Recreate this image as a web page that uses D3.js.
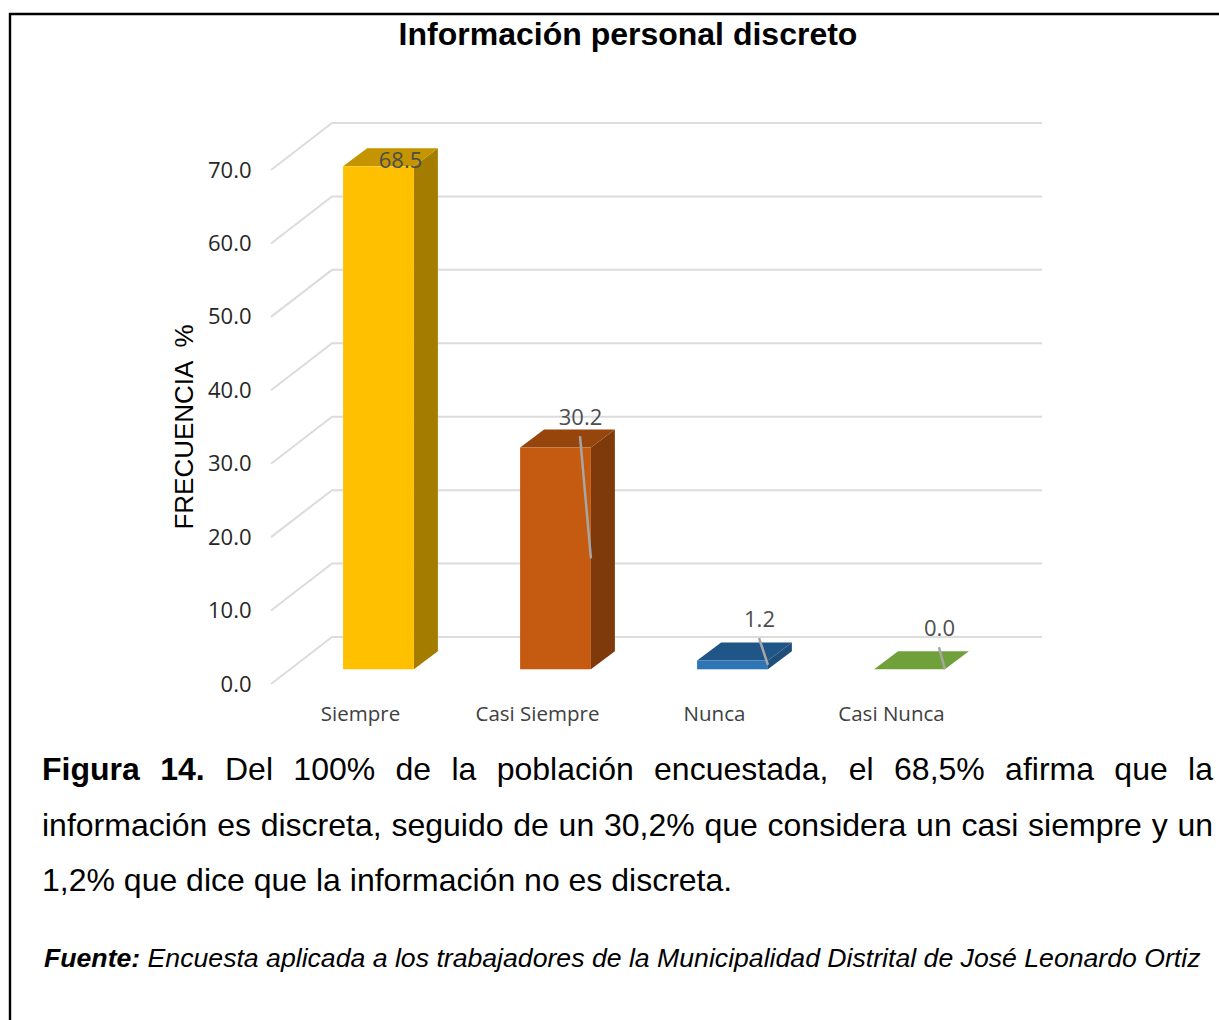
<!DOCTYPE html>
<html lang="es">
<head>
<meta charset="utf-8">
<title>Información personal discreto</title>
<script src="https://cdn.jsdelivr.net/npm/d3@7"></script>
<style>
html,body{margin:0;padding:0;background:#fff;}
svg{display:block;}
.arial{font-family:"Liberation Sans",Arial,sans-serif;fill:#000;}
.axis text{font-family:"Open Sans",sans-serif;}
.axis path,.axis line{display:none;}
</style>
</head>
<body>
<svg id="chart" width="1219" height="1020"></svg>
<script>
const chartTitle = "Información personal discreto";
const yAxisTitle = "FRECUENCIA  %";
const categories = ["Siempre", "Casi Siempre", "Nunca", "Casi Nunca"];
const values = [68.5, 30.2, 1.2, 0.0];
const yTicks = [0, 10, 20, 30, 40, 50, 60, 70];
const frontColors = ["#FFC000", "#C55A11", "#2E75B6", "#70A03A"];
const topColors = ["#C49500", "#96450D", "#1F5587", "#70A03A"];
const sideColors = ["#A37C00", "#7F3A0B", "#1F4E79", "#70A03A"];
const captionLines = [
  ["Figura 14.", " Del 100% de la población encuestada, el 68,5% afirma que la"],
  ["", "información es discreta, seguido de un 30,2% que considera un casi siempre y un"],
  ["", "1,2% que dice que la información no es discreta."]
];
const sourceBold = "Fuente:";
const sourceText = " Encuesta aplicada a los trabajadores de la Municipalidad Distrital de José Leonardo Ortiz";

const svg = d3.select("#chart");

// frame
svg.append("path").attr("d", "M10,1020V14H1219").attr("fill", "none")
  .attr("stroke", "#000").attr("stroke-width", 2.4);

// scales
const yBack = d3.scaleLinear().domain([0, 70]).range([637, 123]);
const yFront = d3.scaleLinear().domain([0, 70]).range([684, 170]);
const yBar = d3.scaleLinear().domain([0, 70]).range([669.3, 155.3]);
const x = d3.scaleBand().domain(categories).range([290, 998]).paddingInner(0.6).paddingOuter(0.3);
const wallLeft = 332, wallRight = 1042, floorLeft = 271;
const depthX = 24, depthY = 18;

// title
svg.append("text").attr("class", "arial").attr("x", 628).attr("y", 45)
  .attr("text-anchor", "middle").attr("font-weight", 700).attr("font-size", 32).text(chartTitle);

// gridlines
const grid = svg.append("g").attr("fill", "none").attr("stroke", "#DCDCDC").attr("stroke-width", 2);
grid.selectAll("path").data(yTicks).join("path")
  .attr("d", d => `M${floorLeft},${yFront(d)}L${wallLeft},${yBack(d)}H${wallRight}`);

// axes
const yAxis = d3.axisLeft(yFront).tickValues(yTicks).tickFormat(d3.format(".1f")).tickSize(0).tickPadding(0);
svg.append("g").attr("class", "axis").attr("transform", "translate(251.5,0)").call(yAxis)
  .selectAll("text").attr("font-size", 22).attr("fill", "#262626");
const xAxis = d3.axisBottom(x).tickSize(0).tickPadding(0);
svg.append("g").attr("class", "axis").attr("transform", "translate(-18,706)").call(xAxis)
  .selectAll("text").attr("font-size", 20.5).attr("fill", "#404040");

// y title
svg.append("text").attr("class", "arial")
  .attr("transform", "translate(193,427) rotate(-90)")
  .attr("text-anchor", "middle").attr("font-size", 26).attr("fill", "#1a1a1a")
  .style("white-space", "pre").text(yAxisTitle);

// bars
const bars = svg.append("g").selectAll("g").data(values).join("g");
bars.append("path").attr("fill", (d, i) => sideColors[i])
  .attr("d", (d, i) => {
    const r = x(categories[i]) + x.bandwidth();
    return `M${r},${yBar(0)}L${r + depthX},${yBar(0) - depthY}V${yBar(d) - depthY}L${r},${yBar(d)}Z`;
  });
bars.append("path").attr("fill", (d, i) => topColors[i])
  .attr("d", (d, i) => {
    const l = x(categories[i]), r = l + x.bandwidth();
    return `M${l},${yBar(d)}L${l + depthX},${yBar(d) - depthY}H${r + depthX}L${r},${yBar(d)}Z`;
  });
bars.append("rect").attr("fill", (d, i) => frontColors[i])
  .attr("x", (d, i) => x(categories[i])).attr("width", x.bandwidth())
  .attr("y", d => yBar(d)).attr("height", d => yBar(0) - yBar(d));

// data labels and leader lines
const labelDx = [22, 25, 27, 30];
const labelBaseDy = [2, -22.5, -33.5, -33];
const baseY = (d, i) => yBar(d) + labelBaseDy[i];
const labelX = (d, i) => x(categories[i]) + x.bandwidth() / 2 + labelDx[i];
const leaders = [null, 1, 2, 3];
svg.append("g").attr("stroke", "#A6A6A6").attr("stroke-width", 2.5)
  .selectAll("line").data(values.map((v, i) => ({v, i})).filter(o => leaders[o.i] !== null)).join("line")
  .attr("x1", o => labelX(o.v, o.i) - 0.5)
  .attr("y1", o => baseY(o.v, o.i) + 11)
  .attr("x2", o => x(categories[o.i]) + x.bandwidth())
  .attr("y2", o => yBar(o.v / 2));
svg.append("g").selectAll("text").data(values).join("text")
  .attr("x", labelX)
  .attr("y", baseY)
  .attr("text-anchor", "middle")
  .attr("font-family", '"Open Sans",sans-serif')
  .attr("font-size", 22)
  .attr("fill", "#4d4d4d")
  .text(d => d3.format(".1f")(d));

// caption, justified on the first two lines
const captionBase = [779.5, 835.5, 890.5];
captionLines.forEach((ln, i) => {
  const t = svg.append("text").attr("class", "arial").attr("x", 42).attr("y", captionBase[i])
    .attr("font-size", 32).style("white-space", "pre");
  if (ln[0]) t.append("tspan").attr("font-weight", 700).text(ln[0]);
  t.append("tspan").text(ln[1]);
  if (i < 2) {
    const txt = ln[0] + ln[1];
    const gaps = txt.trim().split(/\s+/).length - 1;
    const extra = (1213 - 42 - t.node().getComputedTextLength()) / gaps;
    t.attr("word-spacing", extra);
  }
});

// source
const s = svg.append("text").attr("class", "arial").attr("x", 44).attr("y", 966.5)
  .attr("font-size", 26.65).attr("font-style", "italic").style("white-space", "pre");
s.append("tspan").attr("font-weight", 700).text(sourceBold);
s.append("tspan").text(sourceText);
</script>
</body>
</html>
